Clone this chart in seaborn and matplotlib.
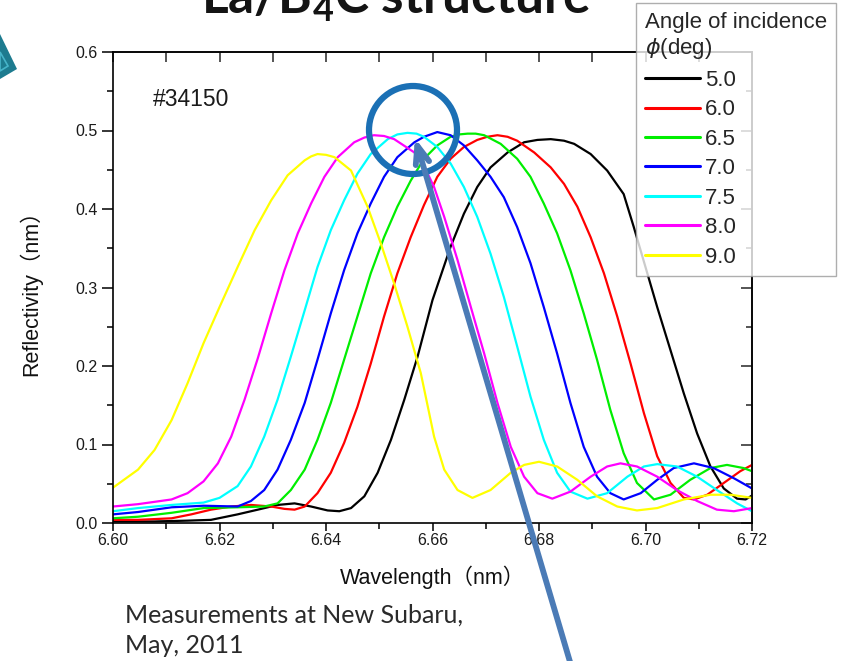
import matplotlib
matplotlib.use("Agg")
import numpy as np
import pandas as pd
import matplotlib.pyplot as plt
import seaborn as sns
from matplotlib.patches import Ellipse, Polygon, FancyArrowPatch
from matplotlib.ticker import MultipleLocator, NullFormatter

# ---- measured reflectivity curves, one pair of lists per angle of incidence ----
angles = ["5.0", "6.0", "6.5", "7.0", "7.5", "8.0", "9.0"]
colors = ["#000000", "#ff0000", "#00ee00", "#0000ff", "#00ffff", "#ff00ff", "#ffff00"]

wl_5_0 = [6.6000, 6.6078, 6.6140, 6.6184, 6.6234, 6.6272, 6.6309, 6.6341, 6.6372, 6.6403,
          6.6425, 6.6447, 6.6472, 6.6497, 6.6522, 6.6547, 6.6572, 6.6600, 6.6634, 6.6659,
          6.6684, 6.6709, 6.6741, 6.6772, 6.6797, 6.6822, 6.6847, 6.6866, 6.6897, 6.6928,
          6.6959, 6.6978, 6.7000, 6.7022, 6.7047, 6.7072, 6.7097, 6.7122, 6.7147, 6.7172,
          6.7188, 6.7200]
r_5_0 = [0.002, 0.002, 0.003, 0.004, 0.011, 0.017, 0.023, 0.025, 0.021, 0.016,
         0.015, 0.019, 0.034, 0.064, 0.106, 0.157, 0.212, 0.284, 0.352, 0.394,
         0.428, 0.453, 0.472, 0.485, 0.488, 0.489, 0.487, 0.483, 0.470, 0.449,
         0.419, 0.377, 0.326, 0.275, 0.220, 0.165, 0.114, 0.072, 0.044, 0.031,
         0.030, 0.035]

wl_6_0 = [6.6000, 6.6047, 6.6110, 6.6147, 6.6184, 6.6222, 6.6259, 6.6297, 6.6322, 6.6341,
          6.6360, 6.6384, 6.6409, 6.6434, 6.6459, 6.6484, 6.6509, 6.6534, 6.6559, 6.6584,
          6.6609, 6.6634, 6.6659, 6.6684, 6.6703, 6.6722, 6.6741, 6.6759, 6.6791, 6.6822,
          6.6847, 6.6872, 6.6897, 6.6922, 6.6947, 6.6972, 6.6997, 6.7022, 6.7047, 6.7072,
          6.7091, 6.7116, 6.7147, 6.7178, 6.7200]
r_6_0 = [0.004, 0.004, 0.006, 0.011, 0.017, 0.021, 0.023, 0.021, 0.018, 0.017,
         0.021, 0.038, 0.064, 0.102, 0.148, 0.203, 0.263, 0.318, 0.364, 0.405,
         0.441, 0.464, 0.479, 0.488, 0.492, 0.494, 0.492, 0.487, 0.472, 0.453,
         0.432, 0.403, 0.364, 0.318, 0.263, 0.203, 0.140, 0.085, 0.051, 0.032,
         0.030, 0.036, 0.051, 0.066, 0.074]

wl_6_5 = [6.6000, 6.6047, 6.6110, 6.6170, 6.6234, 6.6284, 6.6309, 6.6334, 6.6360, 6.6384,
          6.6409, 6.6434, 6.6459, 6.6484, 6.6509, 6.6534, 6.6559, 6.6584, 6.6609, 6.6634,
          6.6650, 6.6666, 6.6681, 6.6697, 6.6728, 6.6759, 6.6784, 6.6809, 6.6834, 6.6859,
          6.6884, 6.6909, 6.6934, 6.6959, 6.6984, 6.7016, 6.7047, 6.7084, 6.7122, 6.7153,
          6.7184, 6.7200]
r_6_5 = [0.006, 0.008, 0.013, 0.019, 0.020, 0.021, 0.025, 0.042, 0.068, 0.106,
         0.153, 0.208, 0.263, 0.318, 0.364, 0.403, 0.436, 0.464, 0.481, 0.492,
         0.495, 0.496, 0.496, 0.494, 0.483, 0.464, 0.441, 0.407, 0.369, 0.322,
         0.267, 0.208, 0.144, 0.089, 0.051, 0.030, 0.036, 0.055, 0.070, 0.074,
         0.070, 0.066]

wl_7_0 = [6.6000, 6.6047, 6.6110, 6.6170, 6.6234, 6.6259, 6.6284, 6.6309, 6.6334, 6.6360,
          6.6384, 6.6409, 6.6434, 6.6459, 6.6484, 6.6509, 6.6534, 6.6566, 6.6584, 6.6609,
          6.6634, 6.6659, 6.6684, 6.6709, 6.6734, 6.6759, 6.6784, 6.6809, 6.6834, 6.6859,
          6.6884, 6.6909, 6.6934, 6.6959, 6.6991, 6.7022, 6.7053, 6.7091, 6.7128, 6.7166,
          6.7200]
r_7_0 = [0.011, 0.014, 0.020, 0.022, 0.021, 0.028, 0.042, 0.068, 0.106, 0.153,
         0.208, 0.267, 0.322, 0.369, 0.407, 0.441, 0.466, 0.485, 0.492, 0.498,
         0.494, 0.481, 0.462, 0.441, 0.415, 0.377, 0.331, 0.275, 0.216, 0.153,
         0.097, 0.059, 0.038, 0.030, 0.038, 0.055, 0.070, 0.076, 0.070, 0.057,
         0.044]

wl_7_5 = [6.6000, 6.6047, 6.6110, 6.6170, 6.6200, 6.6234, 6.6259, 6.6284, 6.6309, 6.6334,
          6.6360, 6.6384, 6.6409, 6.6434, 6.6459, 6.6484, 6.6516, 6.6534, 6.6553, 6.6570,
          6.6584, 6.6609, 6.6634, 6.6659, 6.6684, 6.6709, 6.6734, 6.6759, 6.6784, 6.6809,
          6.6834, 6.6859, 6.6891, 6.6928, 6.6966, 6.6997, 6.7022, 6.7059, 6.7097, 6.7134,
          6.7172, 6.7200]
r_7_5 = [0.015, 0.019, 0.023, 0.026, 0.032, 0.047, 0.072, 0.110, 0.157, 0.212,
         0.271, 0.326, 0.373, 0.411, 0.445, 0.470, 0.489, 0.495, 0.497, 0.496,
         0.492, 0.479, 0.458, 0.428, 0.390, 0.343, 0.288, 0.225, 0.161, 0.106,
         0.064, 0.040, 0.031, 0.038, 0.059, 0.072, 0.075, 0.072, 0.059, 0.042,
         0.025, 0.015]

wl_8_0 = [6.6000, 6.6047, 6.6110, 6.6140, 6.6170, 6.6197, 6.6222, 6.6247, 6.6272, 6.6297,
          6.6322, 6.6347, 6.6372, 6.6397, 6.6422, 6.6453, 6.6472, 6.6490, 6.6509, 6.6528,
          6.6566, 6.6584, 6.6603, 6.6622, 6.6647, 6.6672, 6.6697, 6.6722, 6.6747, 6.6772,
          6.6797, 6.6825, 6.6859, 6.6897, 6.6928, 6.6953, 6.6984, 6.7022, 6.7059, 6.7097,
          6.7134, 6.7166, 6.7200]
r_8_0 = [0.021, 0.024, 0.030, 0.038, 0.053, 0.076, 0.110, 0.157, 0.210, 0.267,
         0.322, 0.369, 0.407, 0.441, 0.466, 0.485, 0.491, 0.494, 0.493, 0.489,
         0.472, 0.455, 0.428, 0.390, 0.335, 0.275, 0.216, 0.153, 0.097, 0.059,
         0.038, 0.031, 0.040, 0.059, 0.072, 0.076, 0.072, 0.059, 0.042, 0.028,
         0.017, 0.015, 0.019]

wl_9_0 = [6.6000, 6.6047, 6.6078, 6.6110, 6.6140, 6.6170, 6.6200, 6.6234, 6.6266, 6.6297,
          6.6328, 6.6360, 6.6372, 6.6384, 6.6400, 6.6416, 6.6447, 6.6478, 6.6503, 6.6528,
          6.6553, 6.6578, 6.6603, 6.6622, 6.6647, 6.6675, 6.6709, 6.6747, 6.6772, 6.6800,
          6.6834, 6.6872, 6.6909, 6.6947, 6.6984, 6.7022, 6.7072, 6.7122, 6.7160, 6.7200]
r_9_0 = [0.045, 0.068, 0.093, 0.131, 0.178, 0.229, 0.275, 0.326, 0.373, 0.411,
         0.443, 0.462, 0.467, 0.470, 0.469, 0.466, 0.449, 0.403, 0.356, 0.305,
         0.250, 0.191, 0.110, 0.068, 0.042, 0.032, 0.042, 0.064, 0.074, 0.078,
         0.072, 0.055, 0.034, 0.021, 0.016, 0.019, 0.030, 0.036, 0.036, 0.032]

x_ticks = [6.60, 6.62, 6.64, 6.66, 6.68, 6.70, 6.72]
x_tick_labels = ["6.60", "6.62", "6.64", "6.66", "6.68", "6.70", "6.72"]
y_ticks = [0.0, 0.1, 0.2, 0.3, 0.4, 0.5, 0.6]
y_tick_labels = ["0.0", "0.1", "0.2", "0.3", "0.4", "0.5", "0.6"]

series = [
    ("5.0", wl_5_0, r_5_0), ("6.0", wl_6_0, r_6_0), ("6.5", wl_6_5, r_6_5),
    ("7.0", wl_7_0, r_7_0), ("7.5", wl_7_5, r_7_5), ("8.0", wl_8_0, r_8_0),
    ("9.0", wl_9_0, r_9_0),
]
df = pd.concat(
    [pd.DataFrame({"wavelength": w, "reflectivity": r, "angle": a}) for a, w, r in series],
    ignore_index=True,
)

# ---- style ----
sns.set_style("ticks")
plt.rcParams["font.family"] = ["Liberation Sans", "Noto Sans CJK JP", "DejaVu Sans"]
plt.rcParams["mathtext.fontset"] = "custom"
plt.rcParams["mathtext.bf"] = "Lato:bold"
plt.rcParams["mathtext.rm"] = "Lato"
plt.rcParams["mathtext.it"] = "DejaVu Sans:italic"

W, H = 851, 661
fig = plt.figure(figsize=(W / 100, H / 100), dpi=100)
ax = fig.add_axes([113 / W, 1 - 523 / H, 639 / W, 471 / H])

palette = dict(zip(angles, colors))
sns.lineplot(data=df, x="wavelength", y="reflectivity", hue="angle",
             hue_order=angles, palette=palette, sort=False, estimator=None,
             linewidth=1.6, ax=ax)

ax.set_xlim(6.60, 6.72)
ax.set_ylim(0.0, 0.6)
ax.set_xticks(x_ticks)
ax.set_xticklabels(x_tick_labels)
ax.set_yticks(y_ticks)
ax.set_yticklabels(y_tick_labels)
ax.xaxis.set_minor_locator(MultipleLocator(0.01))
ax.yaxis.set_minor_locator(MultipleLocator(0.05))
ax.tick_params(which="major", direction="out", width=1.1, color="black",
               labelsize=11.5, labelcolor="#1a1a1a")
ax.tick_params(axis="x", which="major", length=6, pad=1)
ax.tick_params(axis="y", which="major", length=8, pad=3)
ax.tick_params(which="minor", direction="out", length=4, width=1.1, color="black")
for sp in ax.spines.values():
    sp.set_linewidth(1.2)
    sp.set_color("black")

# inward ticks along the top and right frame
top = ax.secondary_xaxis("top")
top.set_xticks(x_ticks)
top.xaxis.set_minor_locator(MultipleLocator(0.01))
top.xaxis.set_major_formatter(NullFormatter())
top.tick_params(which="both", direction="in", length=7, width=1.1)
top.spines["top"].set_linewidth(1.2)
right = ax.secondary_yaxis("right")
right.set_yticks(y_ticks)
right.yaxis.set_minor_locator(MultipleLocator(0.05))
right.yaxis.set_major_formatter(NullFormatter())
right.tick_params(which="major", direction="in", length=8, width=1.1)
right.tick_params(which="minor", direction="in", length=4, width=1.1)
right.spines["right"].set_linewidth(1.2)

ax.set_xlabel("Wavelength（nm）", fontsize=15.5, labelpad=13, color="#111111")
ax.set_ylabel("Reflectivity（nm）", fontsize=15.5, labelpad=24, color="#111111")

ax.text(153 / W, 1 - 99 / H, "#34150", transform=fig.transFigure, fontsize=16.5,
        va="center", ha="left", color="#1a1a1a")

# legend sits above the frame, so it is attached to the figure
handles, labels = ax.get_legend_handles_labels()
ax.get_legend().remove()
leg = fig.legend(handles, labels, title="Angle of incidence\n$\\phi$(deg)",
                 loc="upper left", bbox_to_anchor=(636 / W, 1 - 3 / H),
                 bbox_transform=fig.transFigure, frameon=True, fancybox=False,
                 edgecolor="#9a9a9a", fontsize=16, title_fontsize=16,
                 handlelength=2.5, handletextpad=0.2, labelspacing=0.38,
                 borderaxespad=0, borderpad=0.4)
leg._legend_box.align = "left"
leg.get_frame().set_linewidth(1.0)
leg.set_zorder(20)
for line in leg.get_lines():
    line.set_linewidth(2.2)

# slide heading, partly above the frame
fig.text(396 / W, 1 - 14 / H, "La/B$_\\mathbf{4}$C structure", fontsize=37,
         fontweight="bold", family="Lato", ha="center", va="baseline", color="#141414")

# note below the chart
fig.text(125 / W, 1 - 623 / H, "Measurements at New Subaru,", fontsize=18,
         family="Lato", ha="left", va="baseline", color="#2a2a2a")
fig.text(125 / W, 1 - 653 / H, "May, 2011", fontsize=18,
         family="Lato", ha="left", va="baseline", color="#2a2a2a")

# corner ornament
fig.add_artist(Polygon([(0, 1 - 34 / H), (17 / W, 1 - 69 / H), (0, 1 - 79 / H)],
                       closed=True, transform=fig.transFigure,
                       facecolor="#1d7b8f", edgecolor="none"))
fig.add_artist(Polygon([(0, 1 - 52 / H), (8 / W, 1 - 66 / H), (0, 1 - 71 / H)],
                       closed=True, transform=fig.transFigure,
                       facecolor="none", edgecolor="#46b4c9", linewidth=1.2))

# highlight ring and pointer
fig.add_artist(Ellipse((413 / W, 1 - 130 / H), 88 / W, 88 / H, transform=fig.transFigure,
                       facecolor="none", edgecolor="#1b70b5", linewidth=4.5, zorder=10))
fig.add_artist(FancyArrowPatch((573 / W, 1 - 672 / H), (415 / W, 1 - 138 / H),
                               transform=fig.transFigure,
                               arrowstyle="->,head_length=13,head_width=5",
                               mutation_scale=1, color="#4b7bb6", linewidth=4.2,
                               shrinkA=0, shrinkB=0, zorder=11))

fig.savefig("out.png", dpi=100)
